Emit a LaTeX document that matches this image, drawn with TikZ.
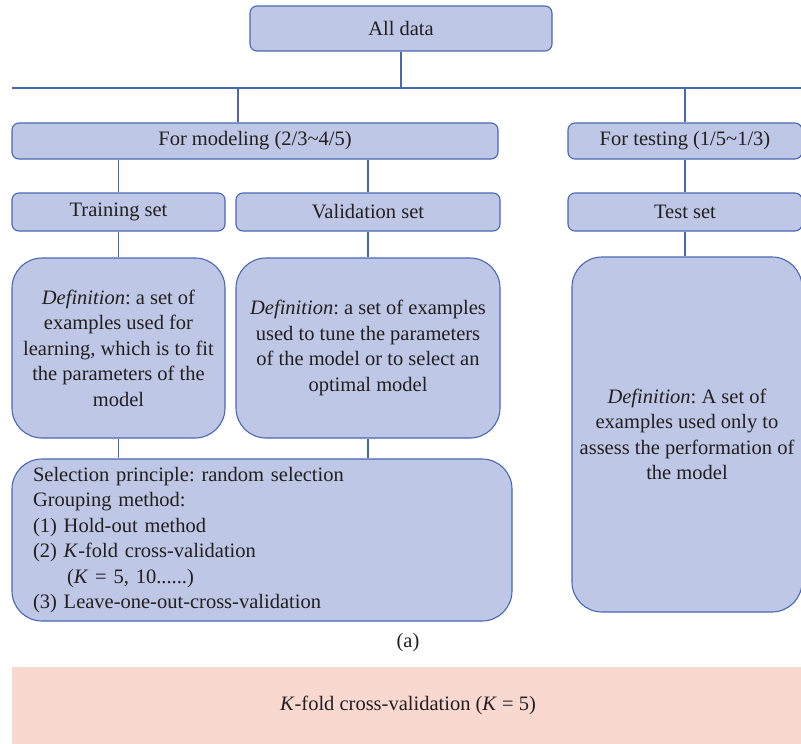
\documentclass[tikz,border=0pt]{standalone}
\usepackage{fontspec}
\setmainfont{Liberation Serif}
\frenchspacing
\definecolor{lineblue}{HTML}{4A67B3}
\definecolor{boxfill}{HTML}{BEC7E5}
\definecolor{pinkfill}{HTML}{F9D8CF}
\definecolor{txt}{HTML}{231F20}
\tikzset{
  base/.style={draw=lineblue, fill=boxfill, line width=1.1pt, inner sep=0pt, text=txt,
     font=\fontsize{20.5}{25.5}\selectfont, align=center},
  smallbox/.style={base, rounded corners=7pt},
  defbox/.style={base, rounded corners=30pt},
  conn/.style={draw=lineblue, line width=1.1pt},
}
\begin{document}
\begin{tikzpicture}[x=1pt,y=-1pt]
\useasboundingbox (0,0) rectangle (801,744);
% top
\node[smallbox, minimum width=302pt, minimum height=45pt] (alldata) at (401,28.5) {All data};
\coordinate (hl) at (12,88);
\coordinate (hr) at (803,88);
\draw[conn] (hl) -- (hr);
\draw[conn] (alldata.south) -- (alldata.south |- hl);
% second level
\node[smallbox, minimum width=486pt, minimum height=36pt] (modeling) at (255,141) {For modeling (2/3\textasciitilde4/5)};
\node[smallbox, minimum width=234pt, minimum height=36pt] (testing) at (685,141) {For testing (1/5\textasciitilde1/3)};
\coordinate (mtop) at (238,88);
\draw[conn] (mtop) -- (mtop |- modeling.north);
\draw[conn] (testing.north |- hl) -- (testing.north);
% third level
\node[smallbox, minimum width=213pt, minimum height=38pt] (training) at (118.5,212) {Training set};
\node[smallbox, minimum width=264pt, minimum height=38pt] (validation) at (368,212) {Validation set};
\node[smallbox, minimum width=234pt, minimum height=38pt] (testset) at (685,212) {Test set};
\draw[conn] (training.north |- modeling.south) -- (training.north);
\draw[conn] (validation.north |- modeling.south) -- (validation.north);
\draw[conn] (testing.south) -- (testset.north);
% definitions
\node[defbox, minimum width=213pt, minimum height=180pt] (trdef) at (118.5,348)
  {\textit{Definition}: a set of\\examples used for\\learning, which is to fit\\the parameters of the\\model};
\node[defbox, minimum width=264pt, minimum height=180pt] (valdef) at (368,348)
  {\textit{Definition}: a set of examples\\used to tune the parameters\\of the model or to select an\\optimal model};
\node[defbox, minimum width=230pt, minimum height=355pt] (testdef) at (687,434.5)
  {\textit{Definition}: A set of\\examples used only to\\assess the performation of\\the model};
\draw[conn] (training.south) -- (trdef.north);
\draw[conn] (validation.south) -- (valdef.north);
\draw[conn] (testset.south) -- (testset.south |- testdef.north);
% selection
\node[defbox, minimum width=500pt, minimum height=162pt, text width=458pt, align=left, inner xsep=21pt] (sel) at (262,540)
  {Selection principle: random selection\\
   Grouping method:\\
   (1) Hold-out method\\
   (2) \textit{K}-fold cross-validation\\
   \hspace*{34pt}(\textit{K} = 5, 10......)\\
   (3) Leave-one-out-cross-validation};
\draw[conn] (trdef.south) -- (trdef.south |- sel.north);
\draw[conn] (valdef.south) -- (valdef.south |- sel.north);
% caption
\node[text=txt, font=\fontsize{20.5}{24}\selectfont] (cap) at (408,643) {(a)};
% pink
\node[fill=pinkfill, minimum width=794pt, minimum height=82pt, inner sep=0pt] (pink) at (409,708) {};
\node[text=txt, font=\fontsize{20.5}{24}\selectfont] (kfold) at (408,705) {\textit{K}-fold cross-validation (\textit{K} = 5)};
\end{tikzpicture}
\end{document}
